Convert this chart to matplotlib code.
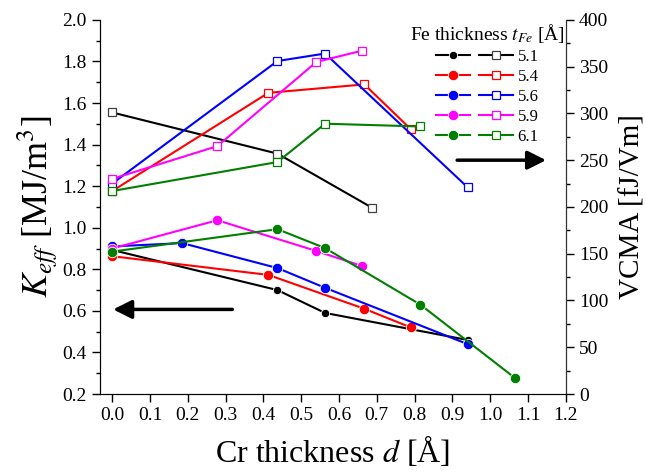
import matplotlib
matplotlib.use("Agg")
import matplotlib.pyplot as plt
from matplotlib.legend_handler import HandlerTuple
from matplotlib.ticker import MultipleLocator

plt.rcParams["font.family"] = ["Liberation Serif", "DejaVu Serif"]
plt.rcParams["mathtext.fontset"] = "stix"

labels = ["5.1", "5.4", "5.6", "5.9", "6.1"]
colors = ["#000000", "#ff0000", "#0000ff", "#ff00ff", "#007f00"]

# Keff (left axis)
keff_d = [
    [0.0, 0.437, 0.563, 0.94],
    [0.0, 0.413, 0.667, 0.79],
    [0.0, 0.185, 0.437, 0.563, 0.94],
    [0.0, 0.278, 0.54, 0.66],
    [0.0, 0.437, 0.563, 0.815, 1.066],
]
keff = [
    [0.893, 0.70, 0.59, 0.46],
    [0.863, 0.773, 0.61, 0.52],
    [0.91, 0.926, 0.806, 0.711, 0.44],
    [0.90, 1.036, 0.888, 0.816],
    [0.885, 0.993, 0.902, 0.63, 0.276],
]

# VCMA (right axis)
vcma_d = [
    [0.0, 0.437, 0.688],
    [0.0, 0.413, 0.667, 0.79],
    [0.0, 0.437, 0.563, 0.94],
    [0.0, 0.278, 0.54, 0.66],
    [0.0, 0.437, 0.563, 0.815],
]
vcma = [
    [301, 257, 199],
    [217, 322, 331, 283],
    [225, 356, 364, 221],
    [230, 265, 355, 367],
    [217, 248, 289, 286],
]

fig = plt.figure(figsize=(6.46, 4.73), dpi=100)
ax = fig.add_axes([0.155, 0.167, 0.721, 0.791])
ax2 = ax.twinx()

circ, sq = [], []
for i in range(len(labels)):
    ms = 6 if i == 0 else 7.5
    sq_edge = "#404040" if i == 0 else colors[i]
    l1, = ax.plot(keff_d[i], keff[i], "-o", color=colors[i], lw=1.5, ms=ms,
                  mec="white", mew=0.6, zorder=3)
    l2, = ax2.plot(vcma_d[i], vcma[i], "-s", color=colors[i], lw=1.5, ms=5.8,
                   mfc="white", mec=sq_edge, mew=0.9, zorder=3)
    circ.append(l1)
    sq.append(l2)

ax.set_xlim(-0.032, 1.2)
ax.set_ylim(0.2, 2.0)
ax2.set_ylim(0, 400)
ax.xaxis.set_major_locator(MultipleLocator(0.1))
ax.yaxis.set_major_locator(MultipleLocator(0.2))
ax.yaxis.set_minor_locator(MultipleLocator(0.1))
ax2.yaxis.set_major_locator(MultipleLocator(50))
ax2.yaxis.set_minor_locator(MultipleLocator(25))
ax.xaxis.set_major_formatter(plt.FormatStrFormatter("%.1f"))
ax.yaxis.set_major_formatter(plt.FormatStrFormatter("%.1f"))

ax.tick_params(axis="both", which="major", direction="out", length=6, width=1, labelsize=14)
ax.tick_params(axis="both", which="minor", direction="out", length=3, width=1)
ax2.tick_params(axis="y", which="major", direction="out", length=6, width=1, labelsize=14)
ax2.tick_params(axis="y", which="minor", direction="out", length=3, width=1)
ax.spines["top"].set_visible(False)
ax2.spines["top"].set_visible(False)
for s in ["left", "bottom"]:
    ax.spines[s].set_color("#333333")
ax2.spines["right"].set_color("#333333")

ax.set_xlabel("Cr thickness $d$ [Å]", fontsize=23, labelpad=7)
ax.set_ylabel("$K_{eff}$ [MJ/m$^3$]", fontsize=26, labelpad=2)
ax2.set_ylabel("VCMA [fJ/Vm]", fontsize=21, labelpad=8)

# direction arrows
ax.annotate("", xy=(-0.005, 0.607), xytext=(0.325, 0.607),
            arrowprops=dict(arrowstyle="-|>", lw=2.5, color="black", mutation_scale=28))
ax2.annotate("", xy=(1.155, 250), xytext=(0.905, 250),
             arrowprops=dict(arrowstyle="-|>", lw=2.5, color="black", mutation_scale=28))

leg = ax2.legend(list(zip(circ, sq)), labels,
                 handler_map={tuple: HandlerTuple(ndivide=None, pad=0.5)},
                 handlelength=4.6, handletextpad=0.3, labelspacing=0.24,
                 title="Fe thickness $t_{Fe}$ [Å]", title_fontsize=14, fontsize=12,
                 frameon=False, loc="upper left", bbox_to_anchor=(0.665, 0.995),
                 alignment="center", borderpad=0, borderaxespad=0)

fig.savefig("out.png", dpi=100)
